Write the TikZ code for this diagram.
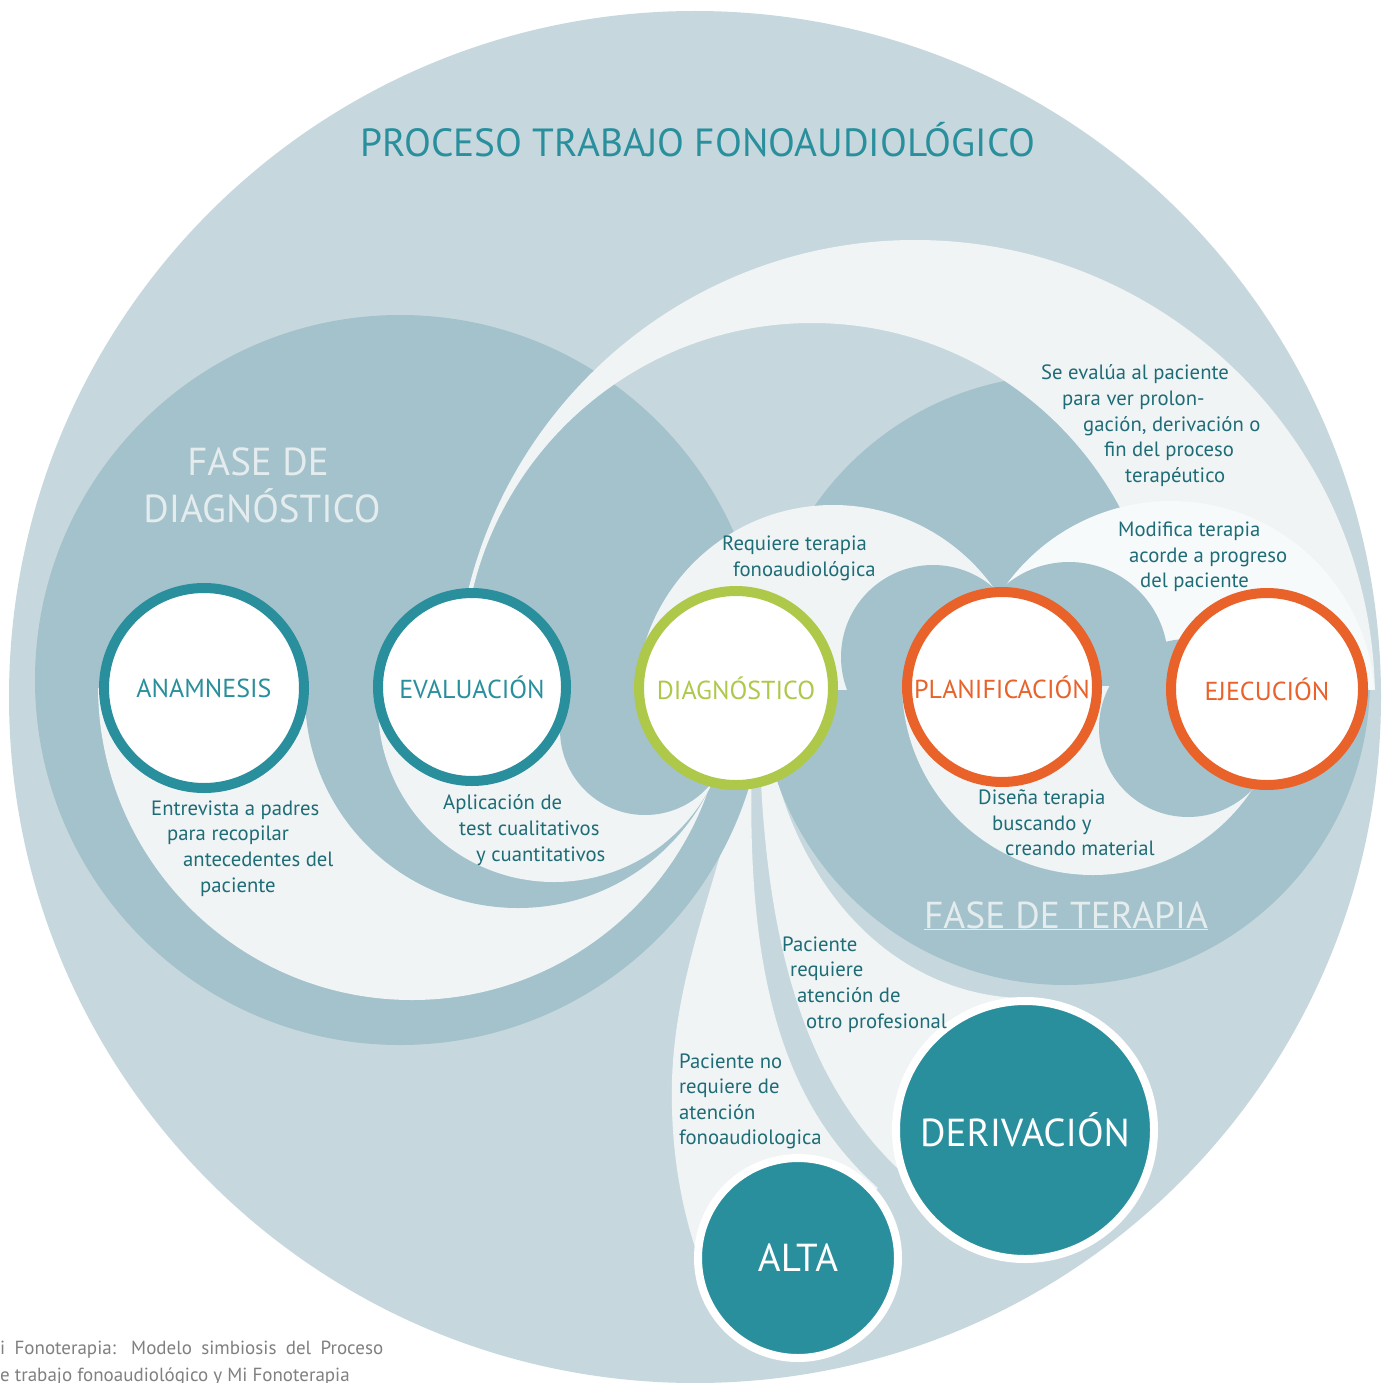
\documentclass[tikz,border=0pt]{standalone}
\usepackage{fontspec}
\setmainfont{PT Sans}
\definecolor{outerc}{HTML}{C6D8DE}
\definecolor{darkc}{HTML}{A3C2CB}
\definecolor{lightc}{HTML}{F0F4F5}
\definecolor{whitec}{HTML}{F7FAFB}
\definecolor{tealc}{HTML}{2A8F9D}
\definecolor{greenc}{HTML}{AEC84A}
\definecolor{orangec}{HTML}{E8622A}
\definecolor{txtc}{HTML}{1E6C76}
\definecolor{fasec}{HTML}{E4ECEE}
\definecolor{capc}{HTML}{808080}
\begin{document}
\begin{tikzpicture}[x=1pt,y=-1pt,
  smalltxt/.style={anchor=base west, inner sep=0pt, text=txtc, font=\fontsize{20.7}{24}\selectfont},
  ringnode/.style={circle, inner sep=0pt, fill=white, line width=10pt, font=\fontsize{26}{30}\selectfont},
  endnode/.style={circle, inner sep=0pt, fill=tealc, draw=white, line width=8pt, text=white, font=\fontsize{39}{44}\selectfont},
  fasetxt/.style={inner sep=0pt, text=fasec, font=\fontsize{39}{46}\selectfont, align=center},
  captxt/.style={anchor=base west, inner sep=0pt, text=capc, font=\fontsize{19}{22}\selectfont}]
\useasboundingbox (0,0) rectangle (1381,1383);
\clip (0,0) rectangle (1381,1383);
\fill[white] (0,0) rectangle (1381,1383);
% outer circle
\fill[outerc] (695,697) circle[radius=686pt];
% ALTA and DERIVACION regions
\fill[lightc] (742,760) .. controls (728,860) and (676,960) .. (672,1080)
   .. controls (670,1160) and (685,1220) .. (700,1262) -- (798,1258) -- (878,1188)
   .. controls (790,1110) and (745,990) .. (752,760) -- cycle;
\fill[lightc] (760,760) .. controls (768,980) and (820,1100) .. (910,1180) -- (1025,1130) -- (1030,998)
   .. controls (920,1000) and (810,920) .. (772,760) -- cycle;
% phase discs
\fill[darkc] (400,680) circle[radius=365pt];
\fill[darkc] (1065,680) circle[radius=305pt];
% upper halves
\begin{scope}
  \clip (0,0) rectangle (1381,689);
  \fill[lightc, even odd rule] (915,700) circle[radius=460pt] (812,672) circle[radius=349pt];
  \fill[lightc] (833,702) circle[radius=197pt];
  \fill[darkc] (933,657) circle[radius=92pt];
  \fill[whitec] (1171,705) circle[radius=204pt];
  \fill[darkc] (1069,661) circle[radius=99pt];
\end{scope}
% lower halves right
\begin{scope}
  \clip (0,686) rectangle (1381,1383);
  \fill[lightc] (1093,684) circle[radius=191pt];
\end{scope}
\fill[darkc] (1188,728) circle[radius=89pt];
% lower halves left
\begin{scope}
  \clip (0,688) rectangle (1381,1383);
  \fill[lightc] (412,686) circle[radius=314pt];
  \fill[darkc] (518,695) circle[radius=213pt];
  \fill[lightc] (554,706) circle[radius=176pt];
  \fill[darkc] (645,730) circle[radius=85pt];
\end{scope}
% rings
\node[ringnode, draw=tealc, text=tealc, minimum size=200pt] (anam) at (204,688) {ANAMNESIS};
\node[ringnode, draw=tealc, text=tealc, minimum size=188pt] (eval) at (472,687) {EVALUACIÓN};
\node[ringnode, draw=greenc, text=greenc, minimum size=194pt] (diag) at (736,688) {DIAGNÓSTICO};
\node[ringnode, draw=orangec, text=orangec, minimum size=190pt] (plan) at (1002,687) {PLANIFICACIÓN};
\node[ringnode, draw=orangec, text=orangec, minimum size=192pt] (ejec) at (1267,689) {EJECUCIÓN};
\node[endnode, minimum size=258pt] (deriv) at (1025,1130) {DERIVACIÓN};
\node[endnode, minimum size=200pt] (alta) at (798,1258) {ALTA};
% titles
\node[inner sep=0pt, text=tealc, font=\fontsize{39.3}{44}\selectfont, anchor=base] (title) at (698,157) {PROCESO TRABAJO FONOAUDIOLÓGICO};
\node[fasetxt, anchor=base] (fd1) at (258,475) {FASE DE};
\node[fasetxt, anchor=base] (fd2) at (262,522) {DIAGNÓSTICO};
\node[fasetxt, anchor=base, font=\fontsize{37.5}{44}\selectfont] (ft) at (1066,928) {FASE DE TERAPIA};
\draw[fasec, line width=0.6pt] ([yshift=-1.5pt]ft.base west) -- ([yshift=-1.5pt]ft.base east);
% small texts
\node[smalltxt] (a1) at (151,815) {Entrevista a padres};
\node[smalltxt] (a2) at (167,840) {para recopilar};
\node[smalltxt] (a3) at (183,866) {antecedentes del};
\node[smalltxt] (a4) at (200,892) {paciente};
\node[smalltxt] (e1) at (443,809) {Aplicación de};
\node[smalltxt] (e2) at (459,835) {test cualitativos};
\node[smalltxt] (e3) at (476,861) {y cuantitativos};
\node[smalltxt] (r1) at (722,550) {Requiere terapia};
\node[smalltxt] (r2) at (733,576) {fonoaudiológica};
\node[smalltxt] (s1) at (1041,379) {Se evalúa al paciente};
\node[smalltxt] (s2) at (1062,405) {para ver prolon-};
\node[smalltxt] (s3) at (1083,431) {gación, derivación o};
\node[smalltxt] (s4) at (1104,456) {fin del proceso};
\node[smalltxt] (s5) at (1125,482) {terapéutico};
\node[smalltxt] (m1) at (1118,536) {Modifica terapia};
\node[smalltxt] (m2) at (1129,562) {acorde a progreso};
\node[smalltxt] (m3) at (1140,587) {del paciente};
\node[smalltxt] (d1) at (978,804) {Diseña terapia};
\node[smalltxt] (d2) at (992,830) {buscando y};
\node[smalltxt] (d3) at (1005,855) {creando material};
\node[smalltxt] (p1) at (782,951) {Paciente};
\node[smalltxt] (p2) at (790,976) {requiere};
\node[smalltxt] (p3) at (797,1002) {atención de};
\node[smalltxt] (p4) at (806,1028) {otro profesional};
\node[smalltxt] (n1) at (679,1068) {Paciente no};
\node[smalltxt] (n2) at (679,1093) {requiere de};
\node[smalltxt] (n3) at (679,1119) {atención};
\node[smalltxt] (n4) at (679,1144) {fonoaudiologica};
% caption
\node[captxt] (c1) at (0,1354) {\makebox[383pt][s]{i Fonoterapia: Modelo simbiosis del Proceso}};
\node[captxt] (c2) at (0,1381) {e trabajo fonoaudiológico y Mi Fonoterapia};
\end{tikzpicture}
\end{document}
